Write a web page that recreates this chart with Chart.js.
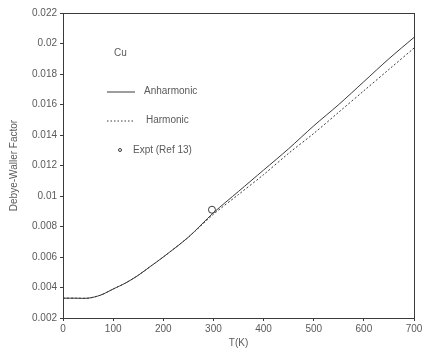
<!DOCTYPE html>
<html lang="en">
<head>
    <meta charset="UTF-8">
    <title>Debye-Waller Factor</title>
    <script src="https://cdn.jsdelivr.net/npm/chart.js"></script>
    <style>
        body { margin: 0; background: #fff; }
        #grafico { display: block; }
    </style>
</head>
<body>
    <canvas id="grafico" width="431" height="353"></canvas>

    <script>
        // valores
        const temperaturas = [0, 25, 50, 75, 100, 125, 150, 175, 200, 250, 300, 350, 400, 450, 500, 550, 600, 650, 700];
        const anarmonico = [0.0033, 0.0033, 0.0033, 0.0035, 0.0039, 0.0043, 0.0048, 0.0054, 0.0060, 0.0073, 0.0089, 0.0103, 0.0117, 0.0131, 0.0146, 0.0160, 0.0175, 0.0190, 0.0204];
        const harmonico = [0.0033, 0.0033, 0.0033, 0.0035, 0.0039, 0.0043, 0.0048, 0.0054, 0.0060, 0.0073, 0.0088, 0.0101, 0.0114, 0.0128, 0.0141, 0.0155, 0.0169, 0.0183, 0.0197];
        const expT = [297];
        const expValor = [0.0091];
        const ticksY = ['0.002', '0.004', '0.006', '0.008', '0.01', '0.012', '0.014', '0.016', '0.018', '0.02', '0.022'];

        const cor = '#3a3a3a';
        const corTexto = '#5a5a5a';
        const fonte = 'Liberation Sans';

        // legenda e rótulo "Cu" desenhados à mão, como no original
        const legendaManual = {
            id: 'legendaManual',
            afterDraw(chart) {
                const ctx = chart.ctx;
                ctx.save();
                ctx.font = '10px ' + fonte;
                ctx.fillStyle = corTexto;
                ctx.textBaseline = 'middle';
                ctx.fillText('Cu', 114, 53);

                ctx.strokeStyle = cor;
                ctx.lineWidth = 1;
                ctx.beginPath();
                ctx.moveTo(107, 92);
                ctx.lineTo(135, 92);
                ctx.stroke();
                ctx.fillText('Anharmonic', 144, 91);

                ctx.setLineDash([1.5, 2]);
                ctx.beginPath();
                ctx.moveTo(107, 121);
                ctx.lineTo(133, 121);
                ctx.stroke();
                ctx.setLineDash([]);
                ctx.fillText('Harmonic', 146, 120);

                ctx.beginPath();
                ctx.arc(120, 150, 1.5, 0, Math.PI * 2);
                ctx.stroke();
                ctx.fillText('Expt (Ref 13)', 133, 150);
                ctx.restore();
            }
        };

        new Chart(document.getElementById('grafico'), {
            type: 'line',
            data: {
                datasets: [{
                    label: 'Anharmonic',
                    data: temperaturas.map((t, i) => ({ x: t, y: anarmonico[i] })),
                    borderColor: cor,
                    borderWidth: 1,
                    pointRadius: 0,
                    tension: 0.3
                }, {
                    label: 'Harmonic',
                    data: temperaturas.map((t, i) => ({ x: t, y: harmonico[i] })),
                    borderColor: cor,
                    borderWidth: 1,
                    borderDash: [2, 2],
                    pointRadius: 0,
                    tension: 0.3
                }, {
                    label: 'Expt (Ref 13)',
                    data: expT.map((t, i) => ({ x: t, y: expValor[i] })),
                    showLine: false,
                    borderColor: cor,
                    backgroundColor: 'rgba(0,0,0,0)',
                    borderWidth: 1,
                    pointRadius: 3.5
                }]
            },
            options: {
                responsive: false,
                animation: false,
                layout: { padding: { top: 5, right: 9, left: 6, bottom: 4 } },
                plugins: {
                    legend: { display: false },
                    tooltip: { enabled: false }
                },
                scales: {
                    x: {
                        type: 'linear',
                        min: 0,
                        max: 700,
                        border: { color: cor, width: 1 },
                        grid: { drawOnChartArea: false, color: cor, tickLength: 3 },
                        ticks: { stepSize: 100, color: corTexto, font: { family: fonte, size: 10 }, padding: 2 },
                        title: { display: true, text: 'T(K)', color: corTexto, font: { family: fonte, size: 10 }, padding: 0 }
                    },
                    y: {
                        min: 0.002,
                        max: 0.022,
                        border: { color: cor, width: 1 },
                        grid: { drawOnChartArea: false, color: cor, tickLength: 3 },
                        ticks: {
                            stepSize: 0.002,
                            color: corTexto,
                            font: { family: fonte, size: 10 },
                            padding: 3,
                            callback: (v, i) => ticksY[i]
                        },
                        title: { display: true, text: 'Debye-Waller Factor', color: corTexto, font: { family: fonte, size: 10 }, padding: { top: 2, bottom: 9 } }
                    },
                    x2: {
                        type: 'linear',
                        position: 'top',
                        min: 0,
                        max: 700,
                        border: { color: cor, width: 1 },
                        grid: { display: false },
                        ticks: { display: false }
                    },
                    y2: {
                        position: 'right',
                        min: 0.002,
                        max: 0.022,
                        border: { color: cor, width: 1, dash: [2, 3] },
                        grid: { display: false },
                        ticks: { display: false }
                    }
                }
            },
            plugins: [legendaManual]
        });
    </script>
</body>
</html>
